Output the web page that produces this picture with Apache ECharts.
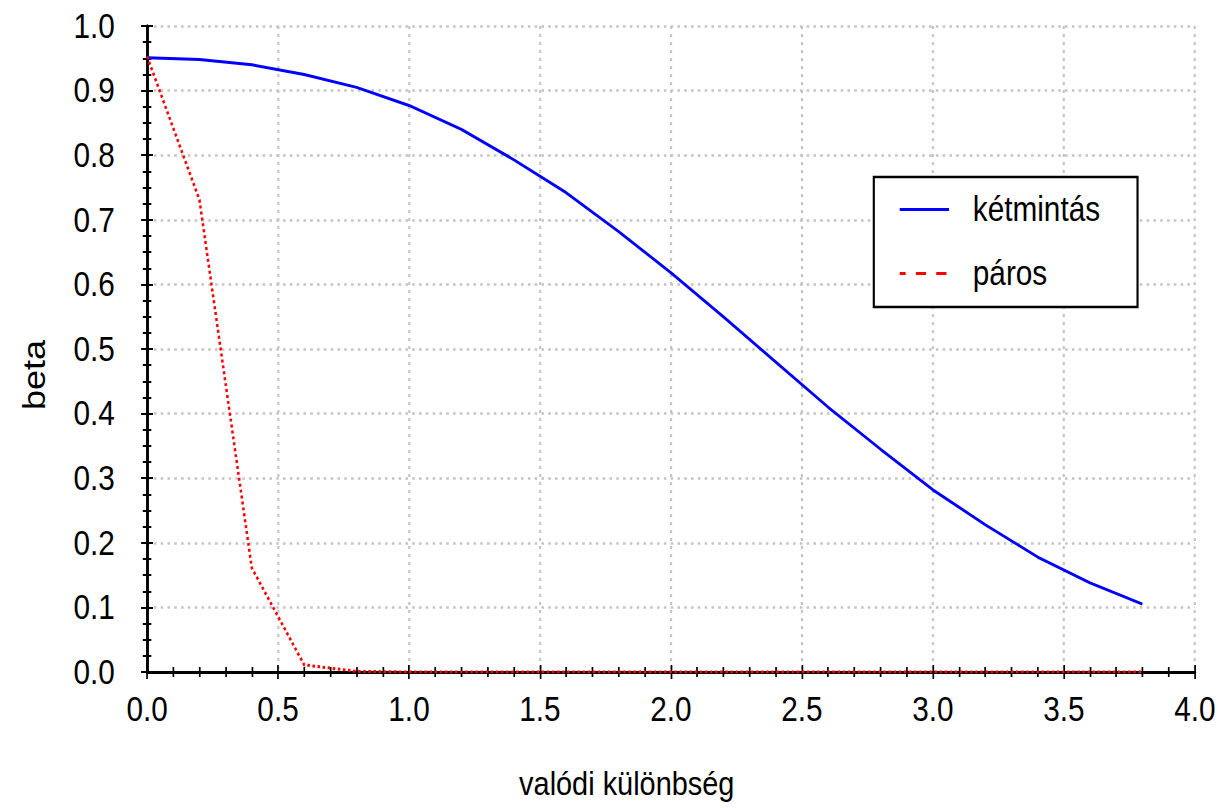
<!DOCTYPE html>
<html>
<head>
<meta charset="utf-8">
<script src="https://cdn.jsdelivr.net/npm/echarts@6/dist/echarts.min.js"></script>
<style>
  html, body { margin: 0; padding: 0; background: #fff; overflow: hidden; }
  /* the original figure is a horizontally squeezed export, so draw wide and squeeze */
  #main { width: 1433px; height: 808px; transform: scaleX(0.85); transform-origin: 0 0; }
</style>
</head>
<body>
<div id="main"></div>
<script>
// valódi különbség (x) values
var diffs = [0, 0.2, 0.4, 0.6, 0.8, 1.0, 1.2, 1.4, 1.6, 1.8, 2.0, 2.2, 2.4, 2.6, 2.8, 3.0, 3.2, 3.4, 3.6, 3.8];
// beta, kétmintás
var betaKetmintas = [0.951, 0.948, 0.940, 0.925, 0.905, 0.877, 0.840, 0.793, 0.742, 0.682, 0.618, 0.550, 0.480, 0.410, 0.345, 0.282, 0.228, 0.178, 0.138, 0.105];
// beta, páros
var betaParos = [0.953, 0.731, 0.161, 0.011, 0.001, 0, 0, 0, 0, 0, 0, 0, 0, 0, 0, 0, 0, 0, 0, 0];

var font = '"Liberation Sans", Arial, sans-serif';

function pairs(ys) {
  return diffs.map(function (x, i) { return [x, ys[i]]; });
}

var myChart = echarts.init(document.getElementById('main'), null, { renderer: 'svg' });

var tickStyle = { show: true, inside: true, length: 7, lineStyle: { color: '#000', width: 2 } };
var minorStyle = { show: true, length: 5, lineStyle: { color: '#000', width: 2 } };
var lineAxis = { show: true, lineStyle: { color: '#000', width: 3 } };
var gridLines = { show: true, lineStyle: { color: '#c4c4c4', width: 2.5, type: [3, 5] } };

option = {
  backgroundColor: '#fff',
  animation: false,
  grid: { left: 173, top: 26, right: 26, bottom: 136 },
  legend: {
    left: 1028,
    top: 177,
    orient: 'vertical',
    backgroundColor: '#fff',
    borderColor: '#000',
    borderWidth: 2.5,
    borderRadius: 0,
    padding: [15, 44, 16, 29],
    itemGap: 29,
    itemWidth: 58,
    itemHeight: 14,
    textStyle: { fontFamily: font, fontSize: 35, color: '#000', lineHeight: 35, padding: [0, 0, 0, 23] },
    data: [
      { name: 'kétmintás', icon: 'inherit', itemStyle: { opacity: 0 }, lineStyle: { color: '#0000ff', width: 3, type: 'solid' } },
      { name: 'páros', icon: 'inherit', itemStyle: { opacity: 0 }, lineStyle: { color: '#ff0000', width: 3, type: [12, 12], dashOffset: 5 } }
    ]
  },
  xAxis: [
    {
      type: 'value', min: 0, max: 4, interval: 0.5,
      name: 'valódi különbség', nameLocation: 'middle', nameGap: 94,
      nameTextStyle: { fontFamily: font, fontSize: 34, color: '#000', padding: [0, 104, 0, 0] },
      axisLine: lineAxis, axisTick: tickStyle,
      minorTick: Object.assign({ splitNumber: 5 }, minorStyle),
      axisLabel: { margin: 20, fontFamily: font, fontSize: 35, color: '#000',
        formatter: function (v) { return v.toFixed(1); } },
      splitLine: gridLines
    },
    {
      type: 'value', min: 0, max: 4, interval: 0.5, position: 'top',
      axisLine: lineAxis, axisTick: tickStyle,
      minorTick: Object.assign({ splitNumber: 5 }, minorStyle),
      axisLabel: { show: false }, splitLine: { show: false }
    }
  ],
  yAxis: [
    {
      type: 'value', min: 0, max: 1, interval: 0.1,
      name: 'beta', nameLocation: 'middle', nameGap: 115,
      nameTextStyle: { fontFamily: font, fontSize: 36, color: '#000', padding: [0, 52, 0, 0] },
      axisLine: lineAxis, axisTick: tickStyle,
      minorTick: Object.assign({ splitNumber: 4 }, minorStyle),
      axisLabel: { margin: 38, fontFamily: font, fontSize: 35, color: '#000',
        formatter: function (v) { return v.toFixed(1); } },
      splitLine: gridLines
    },
    {
      type: 'value', min: 0, max: 1, interval: 0.1, position: 'right',
      axisLine: lineAxis, axisTick: tickStyle,
      minorTick: Object.assign({ splitNumber: 4 }, minorStyle),
      axisLabel: { show: false }, splitLine: { show: false }
    }
  ],
  series: [
    {
      name: 'kétmintás', type: 'line', showSymbol: false, symbol: 'none',
      data: pairs(betaKetmintas),
      lineStyle: { color: '#0000ff', width: 3 },
      itemStyle: { color: '#0000ff' }
    },
    {
      name: 'páros', type: 'line', showSymbol: false, symbol: 'none',
      data: pairs(betaParos),
      lineStyle: { color: '#ff0000', width: 3, type: [3, 3] },
      itemStyle: { color: '#ff0000' }
    }
  ]
};
myChart.setOption(option);
</script>
</body>
</html>
